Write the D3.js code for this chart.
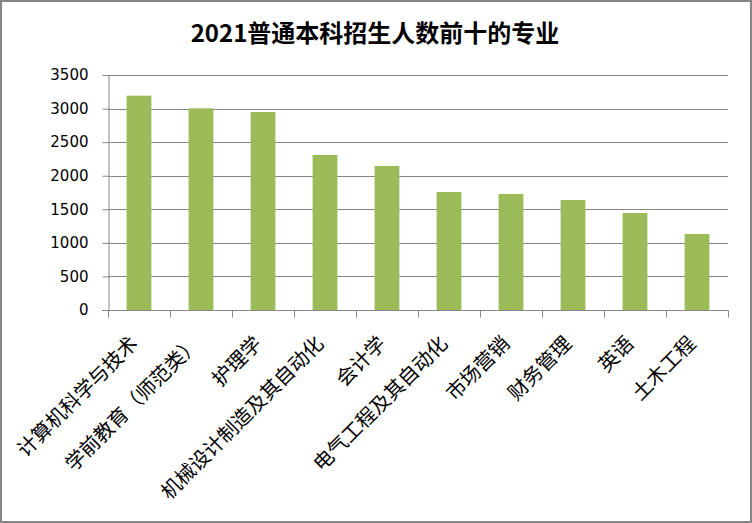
<!DOCTYPE html>
<html><head><meta charset="utf-8">
<script src="https://cdn.jsdelivr.net/npm/d3@7"></script>
<style>
html,body{margin:0;padding:0;background:#fff;}
svg{display:block;}
</style></head>
<body>
<script>
const title = "2021普通本科招生人数前十的专业";
const categories = ["计算机科学与技术","学前教育（师范类）","护理学","机械设计制造及其自动化","会计学","电气工程及其自动化","市场营销","财务管理","英语","土木工程"];
const values = [3192, 3004, 2949, 2309, 2145, 1757, 1728, 1638, 1445, 1132];
const yTicks = [0, 500, 1000, 1500, 2000, 2500, 3000, 3500];

const W = 752, H = 523;
const m = {left:108, right:24, top:75, bottom:213};
const svg = d3.select("body").append("svg").attr("width", W).attr("height", H);

svg.append("rect").attr("x",1).attr("y",1).attr("width",W-2).attr("height",H-2)
  .attr("fill","#fff").attr("stroke","#868686").attr("stroke-width",2);

svg.append("text").attr("x", 375).attr("y", 42).attr("text-anchor","middle")
  .attr("font-family","'Noto Sans CJK SC', sans-serif").attr("font-weight","bold")
  .attr("font-size",24).attr("fill","#000").text(title);

const x = d3.scaleBand().domain(categories).range([m.left, W - m.right]).paddingInner(0.6).paddingOuter(0.3);
const xb = d3.scaleBand().domain(categories).range([m.left, W - m.right]);
const y = d3.scaleLinear().domain([0, 3500]).range([H - m.bottom, m.top]);

// gridlines
svg.append("g").selectAll("line").data(yTicks.filter(d=>d>0)).join("line")
  .attr("x1", m.left).attr("x2", W - m.right)
  .attr("y1", d=>Math.round(y(d))+0.5).attr("y2", d=>Math.round(y(d))+0.5)
  .attr("stroke","#868686").attr("stroke-width",1);

// y axis
const yAxis = svg.append("g").attr("transform",`translate(${m.left+0.5},0)`)
  .call(d3.axisLeft(y).tickValues(yTicks).tickFormat(d3.format("d")).tickSize(6).tickPadding(14).tickSizeOuter(0));
yAxis.select(".domain").attr("stroke","#868686");
yAxis.selectAll(".tick line").attr("stroke","#868686");
yAxis.selectAll(".tick text").attr("font-family","'DejaVu Sans', sans-serif").attr("font-size",15).attr("fill","#000");

// bars
svg.append("g").selectAll("rect").data(values).join("rect")
  .attr("x", (d,i)=>x(categories[i]))
  .attr("width", x.bandwidth())
  .attr("y", d=>y(d))
  .attr("height", d=>y(0)-y(d))
  .attr("fill","#9BBB59");

// x axis
const xAxisG = svg.append("g").attr("transform",`translate(0,${Math.round(y(0))+0.5})`);
xAxisG.append("line").attr("x1", m.left-6).attr("x2", W - m.right).attr("stroke","#868686");
const bounds = categories.map(c=>xb(c)).concat([W - m.right]);
xAxisG.selectAll("line.tk").data(bounds).join("line").attr("class","tk")
  .attr("x1", d=>Math.round(d)+0.5).attr("x2", d=>Math.round(d)+0.5)
  .attr("y1",0).attr("y2",7).attr("stroke","#868686");

// category labels
svg.append("g").selectAll("text").data(categories).join("text")
  .attr("transform", c=>`translate(${xb(c)+xb.bandwidth()/2-5},${y(0)+30}) rotate(-45)`)
  .attr("text-anchor","end").attr("dy","0.35em")
  .attr("font-family","'Noto Sans CJK SC', sans-serif").attr("font-size",20)
  .attr("fill","#000").text(c=>c);
</script>
</body></html>
